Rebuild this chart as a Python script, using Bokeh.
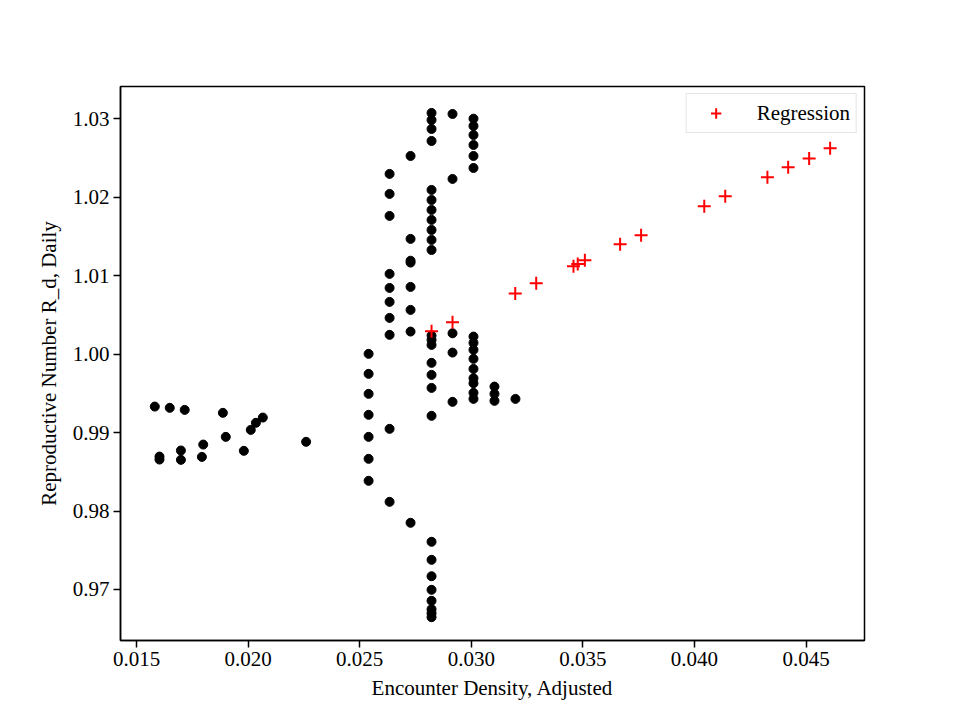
from bokeh.plotting import figure
from bokeh.models import Range1d, FixedTicker, NumeralTickFormatter, Legend
from bokeh.embed import file_html
from bokeh.resources import INLINE

# observed points: encounter density (adjusted) vs daily reproductive number
density_obs = [
    0.01582, 0.01649, 0.01716, 0.01887, 0.02066, 0.02035, 0.02012, 0.01900,
    0.01799, 0.02260, 0.01699, 0.01981, 0.01603, 0.01603, 0.01699, 0.01793,
    0.02540, 0.02540, 0.02540, 0.02540, 0.02540, 0.02540, 0.02540,
    0.02634, 0.02634, 0.02634, 0.02634, 0.02634, 0.02634, 0.02634, 0.02634, 0.02634, 0.02634,
    0.02728, 0.02728, 0.02728, 0.02728, 0.02728, 0.02728, 0.02728, 0.02728,
    0.02822, 0.02822, 0.02822, 0.02822, 0.02822, 0.02822, 0.02822, 0.02822, 0.02822,
    0.02822, 0.02822, 0.02822, 0.02822, 0.02822, 0.02822, 0.02822, 0.02822, 0.02822,
    0.02822, 0.02822, 0.02822, 0.02822, 0.02822, 0.02822, 0.02822, 0.02822,
    0.02916, 0.02916, 0.02916, 0.02916, 0.02916,
    0.03010, 0.03010, 0.03010, 0.03010, 0.03010, 0.03010, 0.03010, 0.03010,
    0.03010, 0.03010, 0.03010, 0.03010, 0.03010, 0.03010, 0.03010,
    0.03104, 0.03104, 0.03104,
    0.03198,
]
rd_obs = [
    0.99331, 0.99315, 0.99289, 0.99251, 0.99191, 0.99124, 0.99034, 0.98945,
    0.98847, 0.98882, 0.98771, 0.98767, 0.98694, 0.98656, 0.98652, 0.98690,
    1.00003, 0.99748, 0.99493, 0.99226, 0.98945, 0.98665, 0.98385,
    1.02296, 1.02041, 1.01761, 1.01022, 1.00843, 1.00665, 1.00461, 1.00245, 0.99047, 0.98117,
    1.02525, 1.01468, 1.01166, 1.01190, 1.00856, 1.00563, 1.00287, 0.97850,
    1.03073, 1.02983, 1.02869, 1.02716, 1.02092, 1.01964, 1.01837, 1.01710, 1.01582,
    1.01455, 1.01327, 1.00236, 1.00181, 1.00117, 0.99888, 0.99735, 0.99569, 0.99213,
    0.97608, 0.97378, 0.97169, 0.96996, 0.96856, 0.96749, 0.96698, 0.96647,
    1.03060, 1.02232, 1.00265, 1.00019, 0.99391,
    1.03000, 1.02907, 1.02792, 1.02665, 1.02525, 1.02372, 1.00223, 1.00143,
    1.00054, 0.99939, 0.99811, 0.99692, 0.99628, 0.99506, 0.99429,
    0.99586, 0.99493, 0.99404,
    0.99429,
]

# regression points
density_reg = [0.02822, 0.02916, 0.03197, 0.03291, 0.03458, 0.03477, 0.03509, 0.03667,
               0.03761, 0.04044, 0.04138, 0.04327, 0.04420, 0.04514, 0.04608]
rd_reg = [1.00290, 1.00405, 1.00771, 1.00902, 1.01118, 1.01149, 1.01195, 1.01399,
          1.01513, 1.01883, 1.02010, 1.02252, 1.02380, 1.02494, 1.02622]

x_ticks = [0.015, 0.020, 0.025, 0.030, 0.035, 0.040, 0.045]
y_ticks = [0.97, 0.98, 0.99, 1.00, 1.01, 1.02, 1.03]

FONT = "Liberation Serif"

p = figure(width=944, height=704, output_backend="svg", toolbar_location=None,
           x_range=Range1d(0.014283, 0.04762), y_range=Range1d(0.9635, 1.0341),
           min_border_left=120, min_border_right=80, min_border_top=86,
           min_border_bottom=64)
p.background_fill_color = "white"
p.border_fill_color = "white"
p.outline_line_color = "black"
p.outline_line_width = 1.5
p.xgrid.grid_line_color = None
p.ygrid.grid_line_color = None

p.scatter(density_obs, rd_obs, marker="circle", size=9, color="black")
r = p.scatter(density_reg, rd_reg, marker="cross", size=13, line_color="red",
              line_width=2)

for ax, ticks, fmt in ((p.xaxis[0], x_ticks, "0.000"), (p.yaxis[0], y_ticks, "0.00")):
    ax.ticker = FixedTicker(ticks=ticks)
    ax.formatter = NumeralTickFormatter(format=fmt)
    ax.major_label_text_font = FONT
    ax.major_label_text_font_size = "21px"
    ax.major_label_text_color = "black"
    ax.axis_label_text_font = FONT
    ax.axis_label_text_font_size = "21px"
    ax.axis_label_text_font_style = "normal"
    ax.axis_label_text_color = "black"
    ax.major_tick_out = 7
    ax.major_tick_in = 0
    ax.minor_tick_out = 0
    ax.minor_tick_in = 0
    ax.axis_line_width = 1.5
    ax.major_tick_line_width = 1.5
    ax.axis_line_color = "black"
    ax.major_label_standoff = 4

p.xaxis.axis_label = "Encounter Density, Adjusted"
p.yaxis.axis_label = "Reproductive Number R_d, Daily"
p.xaxis.axis_label_standoff = 7
p.yaxis.axis_label_standoff = 9

legend = Legend(items=[("Regression", [r])], location="top_right")
legend.label_text_font = FONT
legend.label_text_font_size = "21px"
legend.label_text_color = "black"
legend.border_line_color = "#cccccc"
legend.border_line_width = 1.5
legend.background_fill_alpha = 0.8
legend.margin = 7
legend.padding = 6
legend.glyph_width = 46
legend.glyph_height = 26
legend.label_standoff = 18
legend.label_height = 26
p.add_layout(legend, "center")

open("out.html", "w").write(file_html(p, INLINE))
